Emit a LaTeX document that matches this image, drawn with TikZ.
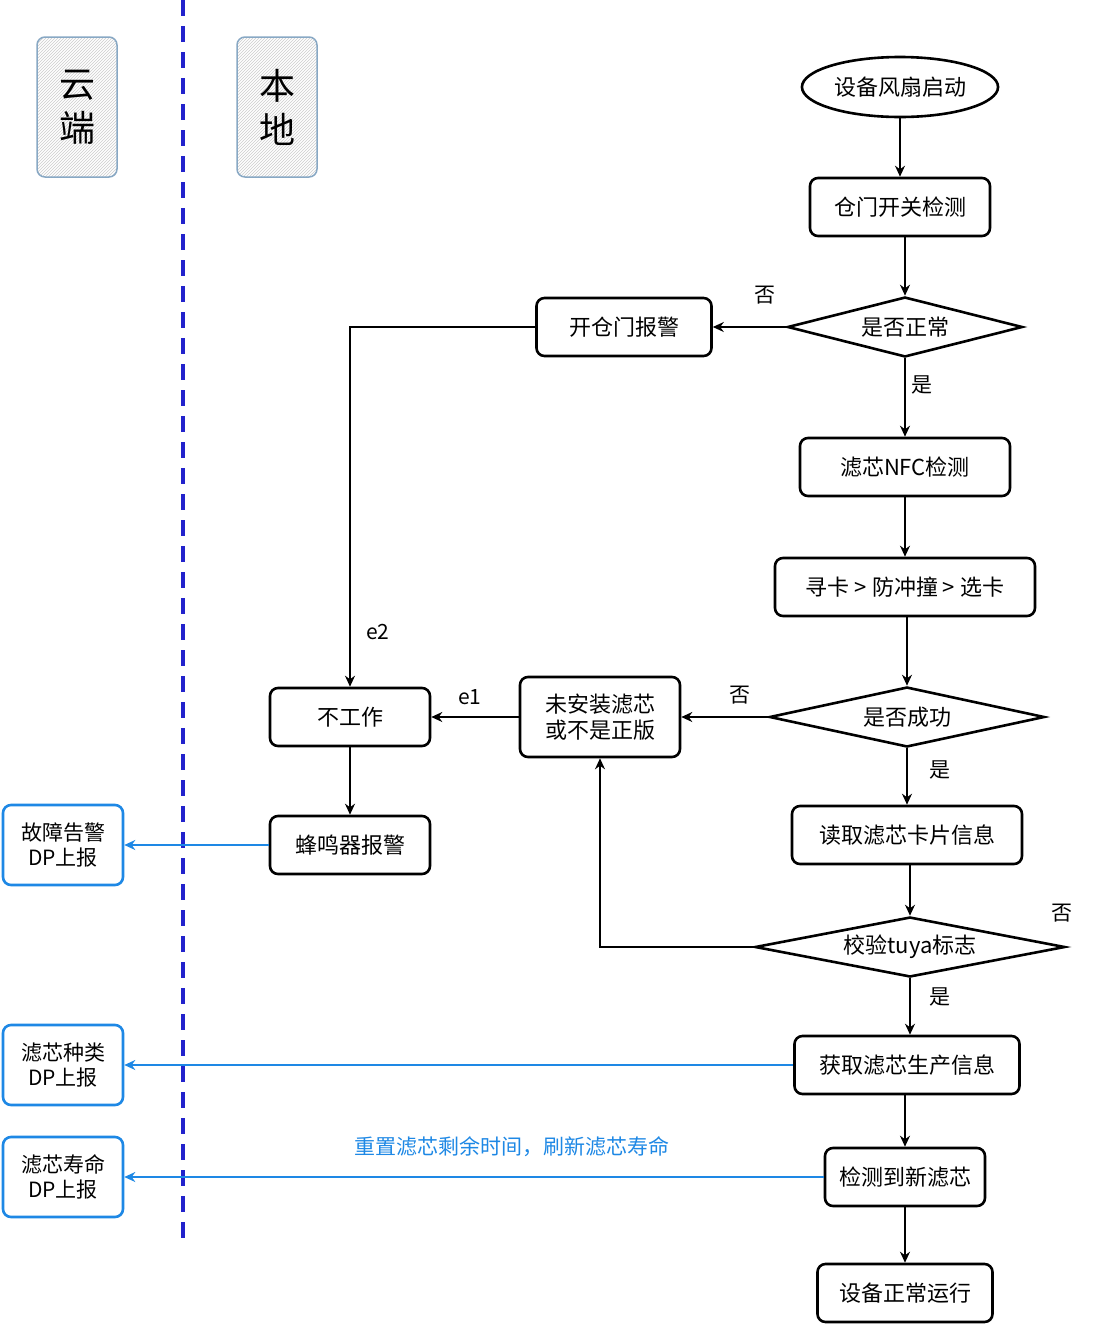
\documentclass[tikz,border=0pt]{standalone}
\usepackage{fontspec}
\setmainfont{Noto Sans CJK SC}
\usetikzlibrary{shapes.geometric,arrows.meta,patterns}
\definecolor{bl}{HTML}{1E88E5}
\definecolor{dk}{HTML}{2222CC}
\begin{document}
\begin{tikzpicture}[x=1pt,y=-1pt,
 box/.style={draw,line width=2.6pt,rounded corners=8pt,minimum width=#1,minimum height=58pt,align=center,font=\fontsize{22}{25}\selectfont},
 dia/.style={draw,line width=2.6pt,diamond,aspect=4,inner sep=0pt,minimum width=#1,minimum height=60pt,font=\fontsize{22}{25}\selectfont},
 cb/.style={draw=bl,line width=2.6pt,rounded corners=8pt,minimum width=120pt,minimum height=80pt,inner sep=0pt,align=center,font=\fontsize{21}{25}\selectfont},
 hb/.style={draw=bl!60!black!50,line width=1.5pt,rounded corners=8pt,minimum width=80pt,minimum height=140pt,pattern=north east lines,pattern color=gray!40,align=center,font=\fontsize{36}{44}\selectfont},
 ar/.style={-{Stealth[length=11pt,width=10pt]},line width=1.5pt},
 ba/.style={-{Stealth[length=11pt,width=10pt]},line width=1.5pt,draw=bl},
 lb/.style={font=\fontsize{21}{25}\selectfont}]
\useasboundingbox (0,0) rectangle (1094,1326);
\fill[white] (0,0) rectangle (1094,1326);
\draw[dk,line width=4pt,dash pattern=on 16pt off 10pt] (183,0) -- (183,1245);
\node[hb] (yun) at (77,107) {云\\端};
\node[hb] (ben) at (277,107) {本\\地};
\node[draw,line width=2.6pt,ellipse,minimum width=180pt,minimum height=60pt,font=\fontsize{22}{25}\selectfont] (s) at (900,87) {设备风扇启动};
\node[box=180pt] (cm) at (900,207) {仓门开关检测};
\node[dia=235pt] (d1) at (905,327) {是否正常};
\node[box=175pt] (kc) at (624,327) {开仓门报警};
\node[box=210pt] (nfc) at (905,467) {滤芯NFC检测};
\node[box=260pt] (xk) at (905,587) {寻卡 > 防冲撞 > 选卡};
\node[dia=275pt] (d2) at (907,717) {是否成功};
\node[box=160pt,minimum height=80pt,font=\fontsize{22}{26}\selectfont] (wa) at (600,717) {未安装滤芯\\或不是正版};
\node[box=160pt] (bg) at (350,717) {不工作};
\node[box=160pt] (fm) at (350,845) {蜂鸣器报警};
\node[box=230pt] (dq) at (907,835) {读取滤芯卡片信息};
\node[dia=310pt] (d3) at (910,947) {校验tuya标志};
\node[box=225pt] (hq) at (907,1065) {获取滤芯生产信息};
\node[box=160pt] (jc) at (905,1177) {检测到新滤芯};
\node[box=175pt] (zc) at (905,1293) {设备正常运行};
\node[cb] (c1) at (63,845) {故障告警\\DP上报};
\node[cb] (c2) at (63,1065) {滤芯种类\\DP上报};
\node[cb] (c3) at (63,1177) {滤芯寿命\\DP上报};
\draw[ar] (s) -- (cm);
\draw[ar] (cm.south -| d1.north) -- (d1);
\draw[ar] (d1) -- (kc);
\draw[ar] (kc.west) -| (bg.north);
\draw[ar] (d1) -- (nfc.north -| d1.south);
\draw[ar] (nfc) -- (xk);
\draw[ar] (xk.south -| d2.north) -- (d2);
\draw[ar] (d2) -- (wa);
\draw[ar] (wa) -- (bg);
\draw[ar] (bg) -- (fm);
\draw[ar] (d2) -- (dq);
\draw[ar] (dq.south -| d3.north) -- (d3);
\draw[ar] (d3.west) -| (wa.south);
\draw[ar] (d3.south) -- (hq.north -| d3.south);
\draw[ar] (hq.south -| jc.north) -- (jc);
\draw[ar] (jc) -- (zc);
\draw[ba] (fm) -- (c1);
\draw[ba] (hq) -- (c2);
\draw[ba] (jc) -- (c3);
\node[lb] (t1) at (765,295) {否};
\node[lb] (t2) at (922,385) {是};
\node[lb] (t3) at (378,632) {e2};
\node[lb] (t4) at (470,697) {e1};
\node[lb] (t5) at (740,695) {否};
\node[lb] (t6) at (940,770) {是};
\node[lb] (t7) at (1062,913) {否};
\node[lb] (t8) at (940,997) {是};
\node[lb,text=bl] (t9) at (512,1147) {重置滤芯剩余时间，刷新滤芯寿命};
\end{tikzpicture}
\end{document}
